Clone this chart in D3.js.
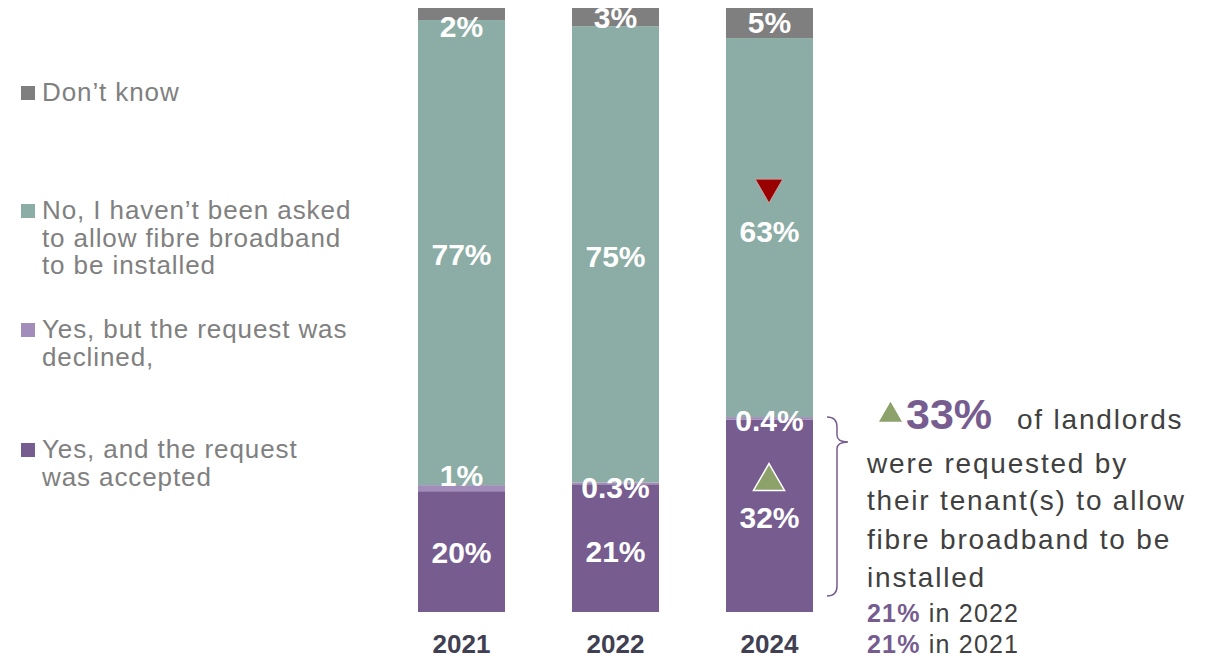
<!DOCTYPE html>
<html>
<head>
<meta charset="utf-8">
<script src="https://cdn.jsdelivr.net/npm/d3@7"></script>
<style>
  html, body { margin: 0; padding: 0; background: #ffffff; }
  svg { display: block; font-family: "Liberation Sans", Arial, sans-serif; }
</style>
</head>
<body>
<svg id="chart" width="1213" height="658"></svg>
<script>
// ---------- data ----------
const years = ["2021", "2022", "2024"];
const accepted = [20, 21, 32];
const declined = [1, 0.3, 0.4];
const notAsked = [77, 75, 63];
const dontKnow = [2, 3, 5];
const acceptedLabels = ["20%", "21%", "32%"];
const declinedLabels = ["1%", "0.3%", "0.4%"];
const notAskedLabels = ["77%", "75%", "63%"];
const dontKnowLabels = ["2%", "3%", "5%"];
const seriesKeys = ["accepted", "declined", "notAsked", "dontKnow"];
const legendLabels = [
  ["Don\u2019t know"],
  ["No, I haven\u2019t been asked", "to allow fibre broadband", "to be installed"],
  ["Yes, but the request was", "declined,"],
  ["Yes, and the request", "was accepted"]
];
const legendKeys = ["dontKnow", "notAsked", "declined", "accepted"];
const calloutValue = "33%";
const calloutLines = ["were requested by", "their tenant(s) to allow", "fibre broadband to be", "installed"];
const priorValues = ["21%", "21%"];
const priorYears = ["in 2022", "in 2021"];

// ---------- styles ----------
const colors = {
  accepted: "#765c8f",
  declined: "#a28cba",
  notAsked: "#8cada5",
  dontKnow: "#7f7f7f"
};
const labelSets = {accepted: acceptedLabels, declined: declinedLabels, notAsked: notAskedLabels, dontKnow: dontKnowLabels};
// label nudges (px) relative to segment centre
const labelNudge = {
  accepted: [1, 3, 2],
  declined: [-13, 4, 2],
  notAsked: [2, 2, 4],
  dontKnow: [12, 0, -1]
};

const rows = years.map((y, i) => ({
  year: y, accepted: accepted[i], declined: declined[i], notAsked: notAsked[i], dontKnow: dontKnow[i]
}));

const svg = d3.select("#chart");

const x = d3.scaleBand().domain(years).range([418, 813]).paddingInner(0.435).paddingOuter(0);
const y = d3.scaleLinear().domain([0, 1]).range([612, 8]);

const stack = d3.stack().keys(seriesKeys).offset(d3.stackOffsetExpand);
const layers = stack(rows);

// bars
const gLayers = svg.append("g").selectAll("g").data(layers).join("g")
  .attr("fill", d => colors[d.key]);
gLayers.selectAll("rect").data(d => d).join("rect")
  .attr("x", d => x(d.data.year))
  .attr("width", x.bandwidth())
  .attr("y", d => y(d[1]))
  .attr("height", d => y(d[0]) - y(d[1]));

// value labels
layers.forEach(layer => {
  svg.append("g").selectAll("text").data(layer).join("text")
    .attr("x", d => x(d.data.year) + x.bandwidth() / 2)
    .attr("y", (d, i) => (y(d[0]) + y(d[1])) / 2 + labelNudge[layer.key][i])
    .attr("dy", "0.35em")
    .attr("text-anchor", "middle")
    .attr("fill", "#ffffff")
    .attr("font-weight", "bold")
    .attr("font-size", 30)
    .text((d, i) => labelSets[layer.key][i]);
});

// x axis (year labels)
const xAxis = d3.axisBottom(x).tickSize(0).tickPadding(0);
const gx = svg.append("g").attr("transform", "translate(0,632)").call(xAxis);
gx.select(".domain").remove();
gx.selectAll("text")
  .attr("dy", null)
  .attr("y", 21)
  .attr("font-family", "Liberation Sans, Arial, sans-serif")
  .attr("font-size", 26)
  .attr("font-weight", "bold")
  .attr("fill", "#404052");

// significance markers in 2024 bar
const i24 = years.indexOf("2024");
const accLayer = layers.find(l => l.key === "accepted")[i24];
const noLayer = layers.find(l => l.key === "notAsked")[i24];
const cx24 = x("2024") + x.bandwidth() / 2;
svg.append("path")
  .attr("d", d3.symbol(d3.symbolTriangle, 420)())
  .attr("transform", `translate(${cx24 - 0.5},${y(accLayer[1]) + 62})`)
  .attr("fill", "#8da26a")
  .attr("stroke", "#ffffff")
  .attr("stroke-width", 1.5);
svg.append("path")
  .attr("d", d3.symbol(d3.symbolTriangle, 330)())
  .attr("transform", `translate(${cx24 - 0.5},${y(noLayer[1]) + 149}) rotate(180)`)
  .attr("fill", "#990000")
  .attr("stroke", "#c9a0a0")
  .attr("stroke-width", 1);

// legend
const legend = svg.append("g").attr("font-size", 26).attr("fill", "#808080").attr("letter-spacing", "0.9px");
const legendBase = [101, 219, 338, 458];
legendKeys.forEach((k, i) => {
  legend.append("rect")
    .attr("x", 21).attr("y", legendBase[i] - 15)
    .attr("width", 14).attr("height", 14)
    .attr("fill", colors[k]);
  const t = legend.append("text").attr("x", 42).attr("y", legendBase[i]);
  legendLabels[i].forEach((line, j) => {
    t.append("tspan").attr("x", 42).attr("y", legendBase[i] + j * 27.5).text(line);
  });
});

// bracket
svg.append("path")
  .attr("d", "M827,417 Q837,417 837,427 L837,435 Q837,442 848,442 Q837,442 837,449 L837,586 Q837,596 827,596")
  .attr("fill", "none")
  .attr("stroke", "#765c8f")
  .attr("stroke-width", 1.5);

// callout
svg.append("path")
  .attr("d", d3.symbol(d3.symbolTriangle, 230)())
  .attr("transform", "translate(890.5,415)")
  .attr("fill", "#8da26a");
const head = svg.append("text").attr("x", 906).attr("y", 429);
head.append("tspan").attr("font-size", 43).attr("font-weight", "bold").attr("fill", "#765c8f").text(calloutValue);
head.append("tspan").attr("x", 1017).attr("font-size", 28).attr("fill", "#404040").attr("letter-spacing", "1.8px").text("of landlords");

const body = svg.append("text").attr("font-size", 28).attr("fill", "#404040").attr("letter-spacing", "1.8px");
const bodyBase = [473, 510, 549, 587];
calloutLines.forEach((line, j) => {
  body.append("tspan").attr("x", 867).attr("y", bodyBase[j]).text(line);
});
const priorBase = [622, 653];
priorValues.forEach((v, j) => {
  const t = svg.append("text").attr("x", 867).attr("y", priorBase[j]).attr("font-size", 25).attr("letter-spacing", "1.2px");
  t.append("tspan").attr("font-weight", "bold").attr("fill", "#765c8f").text(v);
  t.append("tspan").attr("fill", "#404040").text(" " + priorYears[j]);
});
</script>
</body>
</html>
